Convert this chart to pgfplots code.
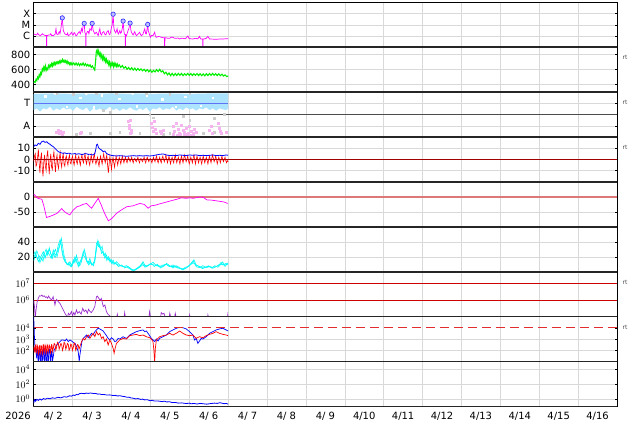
\documentclass[border=0pt]{standalone}
\usepackage{fontspec}
\setmainfont{DejaVu Sans}
\usepackage{pgfplots}
\pgfplotsset{compat=1.18}
\definecolor{xrMag}{RGB}{255,0,255}
\definecolor{swGreen}{RGB}{0,240,0}
\definecolor{secBlue}{RGB}{172,228,255}
\definecolor{secLine}{RGB}{95,115,245}
\definecolor{secPink}{RGB}{245,180,240}
\definecolor{secGray}{RGB}{205,205,205}
\definecolor{zeroDark}{RGB}{160,0,0}
\definecolor{zeroSalmon}{RGB}{220,120,120}
\definecolor{pPurple}{RGB}{155,45,205}
\definecolor{thrRed}{RGB}{205,0,0}
\definecolor{dashRed}{RGB}{225,45,45}
\definecolor{cyanL}{RGB}{0,250,250}
\definecolor{pureBlue}{RGB}{0,0,255}
\definecolor{pureRed}{RGB}{255,0,0}
\newcommand\tickfont{\fontsize{10}{11}\selectfont}

\pgfplotsset{
  panel/.style={
    scale only axis, width=583.3bp, height=44.9bp,
    anchor=north west,
    xmin=0, xmax=15, xtick={1,...,14}, xticklabels={},
    xtick style={draw=none},
    ytick style={black, line width=0.4pt},
    tick align=inside, major tick length=2bp,
    xmajorgrids, ymajorgrids,
    grid style={gray!30, line width=0.45pt},
    axis line style={line width=0.6pt},
    tick label style={font=\tickfont},
    /pgf/number format/assume math mode=true,
    /pgf/number format/1000 sep={},
  },
}

\begin{document}
\begin{tikzpicture}
\path[use as bounding box] (0,0) rectangle (634bp,-424bp);

% 1: X-ray class
\begin{axis}[panel, at={(33.7bp,-2.3bp)},
  ymin=-7, ymax=-3, ytick={-6,-5,-4}, yticklabels={C,M,X}]
\addplot[xrMag, line width=0.7pt] coordinates {
(0,-5.82)(0.04,-5.88)(0.077,-5.91)(0.1,-5.75)(0.12,-5.85)(0.162,-5.97)(0.2,-5.9)(0.22,-5.8)(0.248,-5.88)(0.29,-5.95)(0.316,-5.97)(0.328,-5.95)(0.333,-7.2)(0.338,-5.95)(0.35,-5.97)(0.39,-5.9)(0.419,-5.91)(0.44,-5.8)(0.46,-5.95)(0.504,-5.97)(0.55,-5.85)(0.573,-5.36)(0.59,-5.82)(0.62,-5.88)(0.658,-5.61)(0.675,-5.8)(0.692,-5.52)(0.735,-4.39)(0.761,-5.52)(0.803,-5.82)(0.85,-5.9)(0.87,-5.75)(0.889,-5.97)(0.932,-5.88)(0.974,-5.67)(1.0,-5.9)(1.017,-5.91)(1.04,-5.7)(1.06,-5.76)(1.08,-5.95)(1.103,-5.97)(1.13,-5.8)(1.171,-5.61)(1.2,-5.8)(1.231,-5.36)(1.25,-5.6)(1.274,-5.06)(1.299,-4.88)(1.315,-5.67)(1.335,-5.85)(1.342,-7.2)(1.349,-5.85)(1.359,-5.82)(1.38,-5.6)(1.402,-5.61)(1.42,-5.8)(1.444,-5.36)(1.48,-5.5)(1.504,-4.88)(1.530,-5.52)(1.573,-5.82)(1.6,-5.7)(1.615,-5.67)(1.64,-5.85)(1.658,-5.97)(1.68,-5.6)(1.701,-5.36)(1.72,-5.8)(1.744,-5.91)(1.77,-5.7)(1.803,-5.61)(1.83,-5.85)(1.855,-5.91)(1.88,-5.65)(1.915,-5.52)(1.935,-5.8)(1.957,-5.88)(1.98,-5.6)(2.0,-5.21)(2.02,-5.0)(2.043,-4.06)(2.06,-5.2)(2.077,-5.52)(2.111,-5.73)(2.145,-5.36)(2.16,-5.7)(2.179,-5.82)(2.214,-5.52)(2.235,-5.75)(2.256,-5.67)(2.28,-5.3)(2.299,-4.67)(2.32,-5.6)(2.333,-5.82)(2.352,-5.9)(2.359,-7.2)(2.366,-5.9)(2.385,-5.97)(2.41,-5.7)(2.427,-5.52)(2.45,-5.3)(2.479,-4.85)(2.50,-5.5)(2.513,-5.67)(2.556,-5.91)(2.598,-5.61)(2.62,-5.85)(2.641,-5.97)(2.684,-5.82)(2.726,-5.67)(2.75,-5.9)(2.769,-5.97)(2.812,-5.82)(2.855,-5.36)(2.88,-5.8)(2.897,-5.82)(2.915,-5.4)(2.932,-4.97)(2.95,-5.6)(2.966,-5.73)(3.0,-6.12)(3.03,-5.95)(3.068,-5.97)(3.111,-5.67)(3.13,-6.0)(3.154,-6.12)(3.2,-6.05)(3.239,-6.06)(3.28,-6.12)(3.325,-6.15)(3.36,-6.15)(3.368,-7.2)(3.376,-6.15)(3.393,-6.15)(3.44,-6.2)(3.496,-6.21)(3.54,-6.1)(3.581,-6.12)(3.62,-6.2)(3.667,-6.21)(3.71,-6.18)(3.752,-6.27)(3.8,-6.2)(3.838,-6.21)(3.9,-6.25)(3.966,-6.0)(3.991,-6.21)(4.04,-6.25)(4.094,-6.27)(4.14,-6.22)(4.179,-6.21)(4.22,-6.26)(4.265,-6.03)(4.29,-6.25)(4.308,-6.27)(4.345,-6.27)(4.35,-7.2)(4.356,-6.27)(4.376,-6.27)(4.436,-6.21)(4.479,-6.03)(4.521,-6.27)(4.6,-6.28)(4.692,-6.30)(4.78,-6.27)(4.863,-6.27)(4.93,-6.25)(5.0,-6.24)
};
\addplot[only marks, mark=*, mark size=2.2bp, mark options={draw=blue!85, fill=blue!25, line width=0.6pt}] coordinates {
(0.735,-4.39)(1.299,-4.88)(1.504,-4.88)(2.043,-4.06)(2.299,-4.67)(2.479,-4.85)(2.932,-4.97)
};
\end{axis}

% 2: solar wind speed
\begin{axis}[panel, at={(33.7bp,-47.2bp)},
  ymin=300, ymax=900, ytick={400,600,800}]
\addplot[swGreen, line width=1.1pt] coordinates {
(0.00,425)(0.02,440)(0.04,432)(0.06,470)(0.08,455)(0.10,500)(0.12,480)(0.14,530)(0.16,505)(0.18,560)(0.20,540)(0.22,610)(0.24,585)(0.26,635)(0.28,600)(0.30,650)(0.32,590)(0.34,620)(0.36,600)(0.38,655)(0.40,630)(0.42,665)(0.44,640)(0.46,680)(0.48,650)(0.50,690)(0.52,660)(0.54,695)(0.56,670)(0.58,700)(0.60,680)(0.62,705)(0.64,685)(0.66,715)(0.68,690)(0.70,720)(0.72,700)(0.74,735)(0.76,705)(0.78,725)(0.80,700)(0.82,720)(0.84,690)(0.86,715)(0.88,680)(0.90,700)(0.92,670)(0.94,690)(0.96,665)(0.98,690)(1.00,668)(1.03,690)(1.06,662)(1.09,688)(1.12,660)(1.15,685)(1.18,655)(1.21,680)(1.24,660)(1.27,690)(1.30,655)(1.33,680)(1.36,650)(1.39,670)(1.42,645)(1.45,665)(1.48,630)(1.51,650)(1.54,620)(1.57,595)(1.59,700)(1.61,840)(1.63,865)(1.65,810)(1.67,850)(1.69,790)(1.71,820)(1.73,760)(1.75,800)(1.77,740)(1.79,780)(1.81,725)(1.83,760)(1.85,705)(1.87,740)(1.89,690)(1.91,715)(1.93,665)(1.95,700)(1.97,640)(1.99,690)(2.01,660)(2.03,690)(2.05,640)(2.07,685)(2.09,650)(2.11,680)(2.13,645)(2.15,675)(2.17,640)(2.20,665)(2.24,630)(2.28,655)(2.32,620)(2.36,640)(2.40,605)(2.44,630)(2.48,600)(2.52,625)(2.56,595)(2.60,620)(2.64,590)(2.68,615)(2.72,590)(2.76,610)(2.80,585)(2.84,605)(2.88,578)(2.92,600)(2.96,572)(3.00,595)(3.04,565)(3.08,590)(3.12,570)(3.16,600)(3.20,575)(3.24,605)(3.28,570)(3.32,585)(3.36,545)(3.40,565)(3.44,530)(3.48,555)(3.52,520)(3.56,550)(3.60,520)(3.64,548)(3.68,522)(3.72,550)(3.76,525)(3.80,550)(3.84,520)(3.88,545)(3.92,525)(3.96,550)(4.00,525)(4.04,548)(4.08,522)(4.12,545)(4.16,525)(4.20,548)(4.24,522)(4.28,545)(4.32,520)(4.36,542)(4.40,518)(4.44,545)(4.48,522)(4.52,548)(4.56,525)(4.60,550)(4.64,525)(4.68,545)(4.72,520)(4.76,545)(4.80,520)(4.84,540)(4.88,515)(4.92,530)(4.96,508)(5.00,515)
};
\end{axis}

% 3: sector T / A
\begin{axis}[panel, at={(33.7bp,-92.1bp)},
  ymin=0, ymax=1, ytick={0.25,0.75}, yticklabels={A,T}]
\addplot[fill=secBlue, draw=none] coordinates {
(0,0.96)(0.5,0.97)(0.55,0.93)(0.6,0.97)(1.0,0.96)(1.3,0.97)(1.35,0.92)(1.4,0.96)(2.0,0.97)(2.5,0.96)(2.55,0.93)(2.6,0.97)(3.0,0.96)(3.5,0.97)(4.0,0.96)(4.5,0.97)(5.0,0.97)
(5.0,0.638)(4.949,0.601)(4.863,0.616)(4.778,0.638)(4.692,0.586)(4.607,0.638)(4.521,0.601)(4.436,0.661)(4.350,0.616)(4.265,0.638)(4.179,0.586)(4.094,0.638)(4.009,0.616)(3.923,0.661)(3.838,0.601)(3.752,0.638)(3.667,0.586)(3.581,0.676)(3.496,0.616)(3.410,0.638)(3.325,0.601)(3.239,0.661)(3.154,0.616)(3.068,0.638)(2.983,0.564)(2.897,0.661)(2.812,0.601)(2.726,0.638)(2.641,0.586)(2.556,0.616)(2.470,0.661)(2.385,0.601)(2.299,0.638)(2.214,0.579)(2.128,0.638)(2.043,0.601)(1.957,0.676)(1.872,0.616)(1.786,0.586)(1.701,0.638)(1.615,0.601)(1.530,0.638)(1.444,0.564)(1.359,0.661)(1.274,0.601)(1.188,0.624)(1.103,0.676)(1.017,0.586)(0.932,0.638)(0.846,0.616)(0.761,0.661)(0.675,0.601)(0.590,0.638)(0.504,0.586)(0.419,0.676)(0.333,0.616)(0.248,0.638)(0.162,0.564)(0.077,0.638)(0,0.601)
};
\addplot[only marks, mark=square*, mark size=0.7bp, white] coordinates {
(0.3,0.91)(0.85,0.68)(1.2,0.88)(1.55,0.66)(1.75,0.93)(2.2,0.85)(2.65,0.69)(2.9,0.92)(3.3,0.84)(3.65,0.67)(3.9,0.9)(4.3,0.7)(4.6,0.88)
};
\addplot[only marks, mark=square*, mark size=0.9bp, secGray] coordinates {
(0.59,0.97)(1.017,0.96)(1.615,0.97)(2.128,0.97)(2.897,0.965)(3.496,0.96)(4.009,0.97)
(1.786,0.6)(1.957,0.55)(2.983,0.5)(3.068,0.43)(3.838,0.47)(4.009,0.38)(4.65,0.42)(4.906,0.5)
(1.957,0.08)(1.444,0.08)(2.214,0.1)(2.726,0.08)(3.325,0.06)(3.496,0.08)(4.35,0.08)(4.65,0.1)(1.103,0.06)
};
\addplot[only marks, mark=square*, mark size=1bp, secPink] coordinates {
(0.59,0.096)(0.624,0.141)(0.658,0.082)(0.692,0.119)(0.726,0.067)(0.761,0.096)(1.188,0.082)(1.222,0.111)
(2.427,0.341)(2.444,0.267)(2.462,0.193)(2.479,0.379)(2.496,0.156)(2.513,0.096)(2.47,0.082)
(3.026,0.304)(3.051,0.215)(3.068,0.119)(3.094,0.341)(3.12,0.171)(3.154,0.082)(3.256,0.119)(3.29,0.082)(3.325,0.141)
(3.581,0.230)(3.624,0.119)(3.667,0.304)(3.709,0.171)(3.752,0.082)(3.795,0.267)(3.838,0.141)(3.880,0.096)(3.923,0.193)(3.966,0.082)(4.009,0.230)(4.051,0.119)(4.094,0.082)(4.137,0.171)(4.179,0.111)
(3.60,0.06)(3.70,0.05)(3.78,0.07)(3.86,0.05)(3.95,0.06)(4.02,0.05)(4.11,0.06)
(4.521,0.156)(4.564,0.230)(4.59,0.082)(4.735,0.304)(4.761,0.193)(4.795,0.119)(4.821,0.082)(4.949,0.096)
};
\addplot[gray!60!black, line width=0.6pt] coordinates {(0,0.5)(15,0.5)};
\addplot[secLine, line width=0.9pt] coordinates {(0,0.75)(5,0.75)};
\end{axis}

% 4: IMF Bt / Bz
\begin{axis}[panel, at={(33.7bp,-137bp)},
  ymin=-20, ymax=20, ytick={-10,0,10}]
\addplot[pureRed, line width=0.6pt] coordinates {
(0.00,-2)(0.02,3)(0.04,5)(0.06,-6)(0.08,-4)(0.10,2)(0.12,9)(0.14,-3)(0.16,-12)(0.18,1)(0.20,6)(0.22,-8)(0.24,-15)(0.26,-2)(0.28,4)(0.30,-6)(0.32,-10)(0.34,3)(0.36,8)(0.38,-4)(0.40,-13)(0.42,-1)(0.44,5)(0.46,-7)(0.48,-9)(0.50,2)(0.52,7)(0.54,-3)(0.56,-11)(0.58,0)(0.60,4)(0.62,-5)(0.64,-8)(0.66,1)(0.68,6)(0.70,-3)(0.72,-7)(0.74,2)(0.76,5)(0.78,-4)(0.80,-6)(0.82,1)(0.84,3)(0.86,-2)(0.88,-5)(0.90,1)(0.92,4)(0.94,-3)(0.96,-4)(0.98,1)(1.00,3)(1.02,-2)(1.04,-5)(1.06,0)(1.08,4)(1.10,-2)(1.12,-4)(1.14,1)(1.16,3)(1.18,-2)(1.20,-5)(1.22,1)(1.24,4)(1.26,-1)(1.28,-3)(1.30,2)(1.32,5)(1.34,-1)(1.36,-4)(1.38,1)(1.40,3)(1.42,-2)(1.44,-5)(1.46,0)(1.48,4)(1.50,-1)(1.52,-3)(1.54,2)(1.56,5)(1.58,-1)(1.60,-4)(1.62,-1)(1.64,2)(1.66,-3)(1.68,-6)(1.70,0)(1.72,3)(1.74,-1)(1.76,-4)(1.78,1)(1.80,5)(1.82,0)(1.84,-3)(1.86,1)(1.88,4)(1.90,-5)(1.92,-12)(1.94,-4)(1.96,3)(1.98,-3)(2.00,-9)(2.02,-2)(2.04,2)(2.06,-3)(2.08,-7)(2.10,-1)(2.12,3)(2.14,-1)(2.16,-5)(2.18,-1)(2.20,2)(2.22,-1)(2.24,-4)(2.26,0)(2.28,3)(2.30,0)(2.32,-3)(2.34,0)(2.36,2)(2.38,-1)(2.40,-3)(2.42,0)(2.44,2)(2.46,0)(2.48,-2)(2.50,0)(2.52,2)(2.54,-1)(2.56,-3)(2.58,0)(2.60,1)(2.62,-1)(2.64,-2)(2.66,0)(2.68,2)(2.70,-1)(2.72,-3)(2.74,0)(2.76,1)(2.78,-1)(2.80,-2)(2.82,0)(2.84,2)(2.86,-1)(2.88,-3)(2.90,0)(2.92,2)(2.94,0)(2.96,-2)(2.98,0)(3.00,1)(3.02,-1)(3.04,-3)(3.06,0)(3.08,2)(3.10,0)(3.12,-2)(3.14,1)(3.16,3)(3.18,-1)(3.20,-3)(3.22,0)(3.24,2)(3.26,-1)(3.28,-3)(3.30,1)(3.32,3)(3.34,0)(3.36,-2)(3.38,1)(3.40,4)(3.42,0)(3.44,-3)(3.46,0)(3.48,3)(3.50,-1)(3.52,-4)(3.54,0)(3.56,2)(3.58,-1)(3.60,-3)(3.62,1)(3.64,4)(3.66,0)(3.68,-3)(3.70,0)(3.72,2)(3.74,-1)(3.76,-4)(3.78,0)(3.80,3)(3.82,0)(3.84,-3)(3.86,1)(3.88,4)(3.90,1)(3.92,-2)(3.94,0)(3.96,3)(3.98,-1)(4.00,-4)(4.02,-1)(4.04,2)(4.06,0)(4.08,-3)(4.10,1)(4.12,4)(4.14,0)(4.16,-4)(4.18,0)(4.20,3)(4.22,0)(4.24,-3)(4.26,0)(4.28,2)(4.30,-1)(4.32,-4)(4.34,0)(4.36,3)(4.38,0)(4.40,-3)(4.42,0)(4.44,2)(4.46,-1)(4.48,-4)(4.50,0)(4.52,3)(4.54,0)(4.56,-3)(4.58,1)(4.60,4)(4.62,1)(4.64,-2)(4.66,0)(4.68,3)(4.70,0)(4.72,-4)(4.74,-1)(4.76,2)(4.78,0)(4.80,-3)(4.82,0)(4.84,3)(4.86,0)(4.88,-2)(4.90,0)(4.92,2)(4.94,-1)(4.96,-3)(4.98,-1)(5.00,-2)
};
\addplot[pureBlue, line width=0.8pt] coordinates {
(0,11.4)(0.034,12.9)(0.077,12.3)(0.12,14.4)(0.162,13.5)(0.205,15.8)(0.248,16.4)(0.291,15.2)(0.333,15.8)(0.376,14.4)(0.419,13.5)(0.462,12.3)(0.504,11.4)(0.547,9.9)(0.59,8.4)(0.632,7.0)(0.675,6.3)(0.72,5.8)(0.761,5.4)(0.80,5.9)(0.846,5.1)(0.89,5.6)(0.932,5.4)(0.97,4.8)(1.017,4.9)(1.06,5.3)(1.103,4.6)(1.15,5.1)(1.188,4.9)(1.23,4.4)(1.274,4.6)(1.32,5.2)(1.359,5.1)(1.40,4.5)(1.444,4.6)(1.49,4.2)(1.53,4.0)(1.573,5.4)(1.60,9.5)(1.615,12.9)(1.641,13.5)(1.667,10.5)(1.701,9.3)(1.744,8.4)(1.786,7.0)(1.829,7.5)(1.872,5.4)(1.91,4.6)(1.957,4.0)(2.0,3.6)(2.043,3.4)(2.128,3.1)(2.21,3.4)(2.30,3.1)(2.38,2.8)(2.47,3.1)(2.56,3.4)(2.64,3.1)(2.73,3.4)(2.81,3.1)(2.90,3.4)(2.98,3.1)(3.07,3.4)(3.15,4.0)(3.24,4.6)(3.33,4.9)(3.41,4.0)(3.50,3.4)(3.58,3.7)(3.67,3.4)(3.75,4.0)(3.84,3.7)(3.92,3.4)(4.01,4.0)(4.09,3.7)(4.18,4.0)(4.26,3.4)(4.35,3.7)(4.44,3.4)(4.52,3.7)(4.61,4.0)(4.69,3.4)(4.78,3.7)(4.86,3.4)(4.95,4.0)(5.0,3.7)
};
\addplot[zeroDark, line width=0.7pt] coordinates {(0,0)(15,0)};
\end{axis}

% 5: Dst
\begin{axis}[panel, at={(33.7bp,-181.9bp)},
  ymin=-100, ymax=50, ytick={-50,0}]
\addplot[zeroSalmon, line width=1.4pt] coordinates {(0,0)(15,0)};
\addplot[xrMag, line width=0.7pt] coordinates {
(0,9)(0.06,2)(0.11,-5)(0.21,-8)(0.26,-30)(0.33,-69)(0.42,-65)(0.50,-61)(0.60,-55)(0.72,-39)(0.78,-48)(0.85,-55)(0.93,-60)(1.01,-45)(1.11,-33)(1.19,-30)(1.27,-25)(1.36,-22)(1.42,-30)(1.49,-38)(1.58,-20)(1.66,-5)(1.73,-25)(1.79,-45)(1.86,-65)(1.92,-80)(2.01,-72)(2.13,-55)(2.24,-45)(2.39,-33)(2.55,-30)(2.73,-22)(2.84,-25)(2.94,-38)(3.02,-30)(3.12,-28)(3.25,-23)(3.42,-17)(3.56,-12)(3.68,-8)(3.80,-3)(3.92,-5)(4.02,-3)(4.10,-5)(4.20,-2)(4.28,0)(4.38,-3)(4.45,-10)(4.58,-11)(4.69,-13)(4.79,-15)(4.89,-17)(4.99,-22)
};
\end{axis}

% 6: cyan
\begin{axis}[panel, at={(33.7bp,-226.8bp)},
  ymin=0, ymax=60, ytick={20,40}]
\addplot[cyanL, line width=0.6pt] coordinates {
(0,22.3)(0.034,26.8)(0.077,20.1)(0.12,13.4)(0.162,17.9)(0.205,22.3)(0.248,26.8)(0.291,17.9)(0.333,24.5)(0.376,29.0)(0.419,27.7)(0.462,20.1)(0.504,29.0)(0.547,22.3)(0.59,24.5)(0.632,35.7)(0.675,42.4)(0.7,40.1)(0.726,26.8)(0.761,17.9)(0.803,13.4)(0.846,11.2)(0.889,8.9)(0.932,13.4)(0.974,6.7)(1.017,11.2)(1.06,20.1)(1.103,15.6)(1.145,6.7)(1.188,13.4)(1.231,17.9)(1.274,26.8)(1.316,24.5)(1.359,15.6)(1.402,11.2)(1.444,17.9)(1.487,8.9)(1.53,11.2)(1.573,15.6)(1.615,37.9)(1.641,40.1)(1.667,33.4)(1.701,35.7)(1.744,24.5)(1.786,26.8)(1.829,17.9)(1.872,22.3)(1.915,15.6)(1.957,17.9)(2.0,11.2)(2.043,15.6)(2.085,9.8)(2.128,13.4)(2.214,8.9)(2.299,6.7)(2.385,8.1)(2.47,5.4)(2.513,2.3)(2.556,0.9)(2.641,3.6)(2.726,6.7)(2.812,13.4)(2.855,8.9)(2.897,6.7)(2.983,9.8)(3.068,12.5)(3.154,8.1)(3.239,6.7)(3.325,8.9)(3.41,9.8)(3.496,6.7)(3.581,8.9)(3.667,6.7)(3.752,4.5)(3.838,2.3)(3.923,5.4)(4.009,8.9)(4.094,14.3)(4.137,11.2)(4.179,6.7)(4.265,5.4)(4.35,8.1)(4.436,5.4)(4.521,6.7)(4.607,4.5)(4.692,6.7)(4.778,9.8)(4.82,12.5)(4.863,8.9)(4.949,11.2)(5.0,9.8)
};
\addplot[cyanL, line width=0.6pt] coordinates {
(0,15)(0.04,20)(0.08,28)(0.12,22)(0.16,12)(0.20,18)(0.24,14)(0.28,25)(0.32,30)(0.36,22)(0.40,32)(0.44,24)(0.48,18)(0.52,26)(0.56,30)(0.60,20)(0.64,28)(0.68,38)(0.71,45)(0.74,35)(0.78,22)(0.82,15)(0.86,9)(0.90,12)(0.94,7)(0.98,10)(1.02,16)(1.06,12)(1.10,22)(1.14,14)(1.18,8)(1.22,12)(1.26,20)(1.30,30)(1.34,22)(1.38,12)(1.42,9)(1.46,14)(1.50,10)(1.54,8)(1.58,20)(1.62,32)(1.65,42)(1.68,38)(1.72,30)(1.76,34)(1.80,22)(1.84,25)(1.88,15)(1.92,20)(1.96,13)(2.00,16)(2.04,10)(2.10,12)(2.18,7)(2.26,9)(2.34,5)(2.42,7)(2.50,4)(2.58,2)(2.66,5)(2.74,8)(2.80,11)(2.86,6)(2.94,8)(3.02,11)(3.10,7)(3.18,10)(3.26,5)(3.34,7)(3.42,11)(3.50,8)(3.58,5)(3.66,8)(3.74,6)(3.82,3)(3.90,6)(3.98,7)(4.06,11)(4.12,16)(4.18,9)(4.26,7)(4.34,4)(4.42,6)(4.50,8)(4.58,5)(4.66,8)(4.74,6)(4.80,9)(4.86,13)(4.92,7)(5.0,12)
};
\addplot[cyanL, line width=0.6pt] coordinates {
(0,19)(0.05,24)(0.10,17)(0.15,21)(0.20,16)(0.25,23)(0.30,20)(0.35,27)(0.40,23)(0.45,18)(0.50,24)(0.55,19)(0.60,26)(0.65,33)(0.69,40)(0.72,31)(0.77,20)(0.82,12)(0.87,10)(0.92,9)(0.97,8)(1.02,13)(1.07,17)(1.12,11)(1.17,10)(1.22,15)(1.27,23)(1.32,19)(1.37,13)(1.42,14)(1.47,11)(1.52,9)(1.57,13)(1.62,34)(1.66,38)(1.70,32)(1.75,28)(1.80,24)(1.85,20)(1.90,18)(1.95,15)(2.00,13)(2.06,12)(2.14,10)(2.22,8)(2.30,7)(2.40,6)(2.50,3)(2.60,2)(2.70,5)(2.80,9)(2.90,8)(3.00,10)(3.10,9)(3.20,8)(3.30,7)(3.40,10)(3.50,7)(3.60,7)(3.70,5)(3.80,4)(3.90,4)(4.00,8)(4.10,12)(4.20,8)(4.30,6)(4.40,6)(4.50,7)(4.60,6)(4.70,7)(4.80,10)(4.90,9)(5.0,10)
};
\end{axis}

% 7: proton flux (log10)
\begin{axis}[panel, at={(33.7bp,-271.7bp)},
  ymin=5, ymax=7.69, ytick={6,7}, yticklabels={$10^{6}$,$10^{7}$}]
\addplot[thrRed, line width=0.7pt] coordinates {(0,6)(15,6)};
\addplot[thrRed, line width=0.7pt] coordinates {(0,7)(15,7)};
\addplot[pPurple, line width=0.7pt] coordinates {
(0,5.99)(0.02,5.6)(0.04,4.9)(0.06,5.4)(0.09,5.9)(0.12,6.1)(0.15,6.25)(0.18,6.23)(0.21,6.29)(0.24,6.2)(0.27,6.25)(0.30,6.15)(0.33,6.19)(0.36,6.1)(0.38,6.23)(0.42,6.09)(0.46,5.99)(0.50,6.19)(0.52,6.0)(0.547,5.70)(0.57,5.95)(0.59,6.03)(0.632,5.89)(0.675,5.79)(0.718,5.6)(0.761,5.4)(0.803,5.2)(0.846,5.04)(0.87,4.9)(0.89,5.2)(0.93,5.1)(0.97,5.3)(1.0,5.05)(1.03,5.25)(1.06,5.1)(1.10,5.4)(1.13,5.2)(1.17,5.3)(1.22,5.15)(1.26,5.5)(1.30,5.3)(1.34,5.4)(1.38,5.2)(1.41,5.44)(1.45,5.3)(1.48,5.24)(1.53,5.4)(1.57,5.6)(1.615,6.19)(1.641,6.23)(1.67,6.1)(1.71,5.99)(1.74,6.09)(1.77,5.79)(1.79,5.6)(1.83,5.7)(1.87,5.3)(1.91,5.14)(1.96,5.04)(2.0,4.9)(2.13,4.9)(2.15,5.14)(2.17,4.9)(2.32,4.9)(2.34,5.24)(2.36,4.9)(2.96,4.9)(2.98,5.3)(3.01,4.9)(3.26,4.9)(3.28,5.24)(3.32,5.15)(3.35,5.2)(3.39,4.9)(3.48,4.9)(3.50,5.2)(3.53,4.9)(3.62,4.9)(3.64,5.2)(3.67,4.9)(4.0,4.9)(4.01,5.1)(4.03,4.9)(4.47,4.9)(4.48,5.1)(4.50,4.9)(4.98,4.9)(4.99,5.1)(5.0,4.9)
};
\end{axis}

% 8: electron flux (log10)
\begin{axis}[panel, at={(33.7bp,-316.6bp)},
  ymin=1, ymax=5, ytick={2,3}, yticklabels={$10^{2}$,$10^{3}$},
  extra y ticks={4}, extra y tick labels={$10^{4}$}, extra y tick style={grid=none}]
\addplot[pureBlue, line width=0.7pt] coordinates {
(0,5.2)(0.008,4.25)(0.017,3.36)(0.034,2.17)(0.06,1.88)(0.077,1.28)(0.09,1.9)(0.103,2.17)(0.115,0.9)(0.128,1.13)(0.14,2.0)(0.154,2.02)(0.165,1.2)(0.179,0.9)(0.19,1.9)(0.205,1.88)(0.215,0.9)(0.231,1.28)(0.245,2.1)(0.256,2.17)(0.27,0.9)(0.282,1.13)(0.295,2.0)(0.308,1.73)(0.32,1.0)(0.333,0.9)(0.345,1.9)(0.359,1.88)(0.372,0.9)(0.385,1.28)(0.40,2.1)(0.419,2.02)(0.43,0.9)(0.444,1.13)(0.458,1.9)(0.47,1.88)(0.485,1.1)(0.504,1.43)(0.525,2.0)(0.547,2.17)(0.59,2.47)(0.632,2.62)(0.675,2.77)(0.718,2.92)(0.761,2.92)(0.803,2.83)(0.846,3.00)(0.889,2.77)(0.932,2.92)(0.974,2.83)(1.017,2.71)(1.06,2.62)(1.103,2.32)(1.145,1.88)(1.171,1.0)(1.188,1.58)(1.214,2.17)(1.239,2.77)(1.274,3.06)(1.316,3.21)(1.359,3.36)(1.402,3.12)(1.444,3.30)(1.487,3.51)(1.53,3.36)(1.573,3.66)(1.615,3.81)(1.658,3.96)(1.701,3.90)(1.744,3.81)(1.786,3.72)(1.829,3.51)(1.872,3.30)(1.915,3.06)(1.957,2.92)(2.0,3.12)(2.043,3.00)(2.085,2.77)(2.128,2.83)(2.171,3.06)(2.214,3.00)(2.299,3.21)(2.385,3.06)(2.47,3.36)(2.556,3.51)(2.641,3.66)(2.726,3.75)(2.812,3.81)(2.855,3.66)(2.897,3.72)(2.94,3.51)(2.983,3.30)(3.026,3.06)(3.068,2.92)(3.111,2.77)(3.154,3.00)(3.197,2.83)(3.239,3.06)(3.325,3.21)(3.41,3.36)(3.496,3.66)(3.581,3.81)(3.667,3.96)(3.752,4.04)(3.838,4.01)(3.923,3.90)(4.009,3.66)(4.094,3.36)(4.137,2.92)(4.179,3.06)(4.222,2.62)(4.265,2.83)(4.308,3.06)(4.35,3.00)(4.436,3.21)(4.521,3.51)(4.607,3.66)(4.692,3.81)(4.778,3.90)(4.863,3.96)(4.949,3.81)(5.0,3.72)
};
\addplot[pureRed, line width=0.7pt] coordinates {
(0,2.32)(0.013,2.0)(0.026,1.88)(0.038,2.4)(0.051,2.47)(0.064,1.7)(0.077,2.02)(0.09,2.45)(0.103,2.32)(0.115,1.6)(0.128,1.73)(0.14,2.35)(0.154,2.41)(0.166,1.7)(0.179,1.94)(0.192,2.4)(0.205,2.32)(0.218,1.6)(0.231,1.82)(0.243,2.5)(0.256,2.47)(0.27,1.8)(0.282,2.02)(0.295,2.45)(0.308,2.32)(0.32,1.7)(0.333,1.88)(0.346,2.5)(0.359,2.41)(0.372,1.8)(0.385,2.02)(0.40,2.45)(0.419,2.32)(0.43,1.75)(0.444,1.88)(0.457,2.5)(0.47,2.47)(0.487,1.9)(0.504,2.17)(0.525,2.6)(0.547,2.53)(0.568,2.0)(0.59,2.32)(0.61,2.7)(0.632,2.62)(0.655,2.1)(0.675,2.32)(0.697,2.6)(0.718,2.53)(0.74,2.0)(0.761,2.23)(0.78,2.7)(0.803,2.62)(0.825,2.1)(0.846,2.32)(0.868,2.6)(0.889,2.53)(0.91,2.0)(0.932,2.17)(0.953,2.55)(0.974,2.47)(0.995,2.0)(1.017,2.23)(1.04,2.65)(1.06,2.62)(1.08,2.0)(1.103,2.17)(1.125,2.5)(1.145,2.47)(1.165,2.1)(1.188,2.32)(1.231,2.77)(1.274,3.06)(1.316,2.92)(1.359,3.21)(1.402,3.36)(1.444,3.06)(1.487,3.30)(1.53,3.51)(1.573,3.21)(1.615,3.66)(1.658,3.36)(1.701,3.51)(1.744,3.06)(1.786,3.21)(1.829,2.77)(1.872,3.00)(1.915,2.47)(1.957,2.92)(2.0,2.62)(2.043,2.17)(2.068,1.73)(2.094,2.17)(2.128,2.62)(2.171,2.77)(2.214,2.92)(2.299,3.06)(2.385,3.00)(2.47,3.30)(2.556,3.36)(2.641,3.42)(2.726,3.30)(2.812,3.36)(2.897,3.21)(2.983,3.12)(3.026,3.00)(3.068,2.77)(3.094,1.88)(3.111,0.9)(3.128,2.17)(3.154,2.92)(3.239,3.21)(3.325,3.30)(3.41,3.36)(3.496,3.51)(3.581,3.36)(3.667,3.51)(3.752,3.72)(3.838,3.51)(3.923,3.36)(4.009,3.30)(4.094,3.36)(4.137,3.21)(4.179,3.06)(4.265,3.21)(4.35,3.12)(4.436,3.30)(4.521,3.42)(4.607,3.51)(4.692,3.66)(4.778,3.51)(4.863,3.42)(4.949,3.36)(5.0,3.30)
};
% threshold 1e4, drawn as short dashes
\addplot[only marks, mark=-, mark size=4.5bp, mark options={draw=dashRed, line width=1.2pt}] coordinates {
(0.115,4)(0.475,4)(0.835,4)(1.195,4)(1.555,4)(1.915,4)(2.275,4)(2.635,4)(2.995,4)(3.355,4)(3.715,4)(4.075,4)(4.435,4)(4.795,4)(5.155,4)(5.515,4)(5.875,4)(6.235,4)(6.595,4)(6.955,4)(7.315,4)(7.675,4)(8.035,4)(8.395,4)(8.755,4)(9.115,4)(9.475,4)(9.835,4)(10.195,4)(10.555,4)(10.915,4)(11.275,4)(11.635,4)(11.995,4)(12.355,4)(12.715,4)(13.075,4)(13.435,4)(13.795,4)(14.155,4)(14.515,4)(14.875,4)
};
\end{axis}

% 9: bottom panel (log10)
\begin{axis}[panel, at={(33.7bp,-361.5bp)}, clip mode=individual,
  ymin=-1, ymax=5, ytick={0,2,4}, yticklabels={$10^{0}$,$10^{2}$,$10^{4}$},
  extra x ticks={0.5,1.5,...,14.5},
  extra x tick labels={4/ 2,4/ 3,4/ 4,4/ 5,4/ 6,4/ 7,4/ 8,4/ 9,4/10,4/11,4/12,4/13,4/14,4/15,4/16},
  extra x tick style={grid=none, major tick length=0pt, xticklabel style={yshift=-2bp}}]
\addplot[pureBlue, line width=0.8pt] coordinates {
(0,-0.6)(0.02,-0.1)(0.05,-0.3)(0.08,-0.05)(0.12,-0.2)(0.16,0.0)(0.20,-0.15)(0.25,0.05)(0.30,-0.05)(0.35,0.1)(0.42,0.02)(0.48,0.15)(0.55,0.08)(0.62,0.22)(0.70,0.14)(0.78,0.3)(0.85,0.24)(0.92,0.42)(0.97,0.36)(1.02,0.52)(1.06,0.46)(1.10,0.6)(1.14,0.55)(1.18,0.72)(1.23,0.75)(1.30,0.7)(1.35,0.78)(1.40,0.74)(1.46,0.79)(1.53,0.73)(1.60,0.72)(1.65,0.64)(1.70,0.66)(1.75,0.58)(1.80,0.6)(1.88,0.52)(1.95,0.54)(2.05,0.45)(2.10,0.48)(2.15,0.4)(2.22,0.42)(2.30,0.33)(2.35,0.3)(2.40,0.22)(2.45,0.24)(2.50,0.13)(2.56,0.1)(2.62,0.0)(2.68,0.05)(2.75,-0.07)(2.80,-0.02)(2.85,-0.13)(2.92,-0.1)(2.99,-0.24)(3.05,-0.18)(3.10,-0.27)(3.20,-0.28)(3.30,-0.36)(3.36,-0.3)(3.42,-0.4)(3.50,-0.38)(3.55,-0.47)(3.65,-0.48)(3.72,-0.56)(3.80,-0.53)(3.93,-0.62)(4.00,-0.56)(4.05,-0.65)(4.12,-0.6)(4.20,-0.68)(4.28,-0.6)(4.35,-0.64)(4.45,-0.7)(4.55,-0.62)(4.65,-0.56)(4.72,-0.6)(4.79,-0.5)(4.85,-0.58)(4.90,-0.64)(4.95,-0.6)(5.0,-0.7)
};
\node[anchor=north, font=\tickfont, yshift=-2bp] at (rel axis cs:-0.0269,0) {2026};
\end{axis}

% thick separators between panels
\foreach \yy in {47.2,92.1,137,181.9,226.8,271.7,316.6,361.5,406.4}
  \draw[line width=1.6bp, black!85] (33.4bp,-\yy bp) -- (617.3bp,-\yy bp);
\foreach \yy in {57,102,147,282,327}
  \node[font=\fontsize{6}{6}\selectfont, text=black!70] at (625bp,-\yy bp) {rt};
\end{tikzpicture}
\end{document}
